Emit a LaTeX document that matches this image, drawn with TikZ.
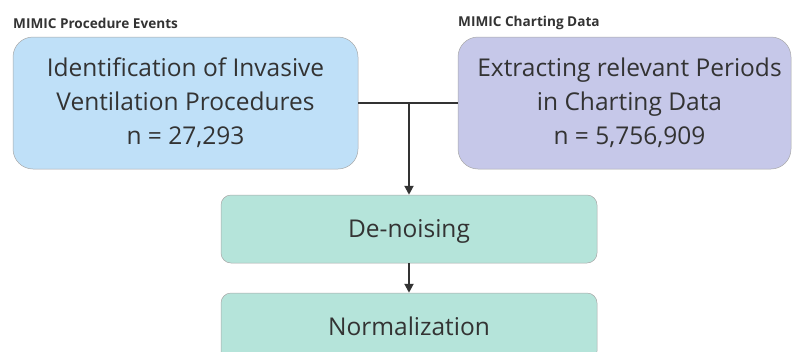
\documentclass[tikz,border=0pt]{standalone}
\usepackage{fontspec}
\setmainfont{Open Sans}
\usetikzlibrary{arrows.meta}
\definecolor{bluebox}{HTML}{BFE0F8}
\definecolor{purplebox}{HTML}{C6C8E9}
\definecolor{greenbox}{HTML}{B5E4DA}
\definecolor{edgegray}{HTML}{A8A8A8}
\definecolor{txt}{HTML}{333333}
\tikzset{
  x=1pt, y=-1pt,
  boxbase/.style={draw=edgegray, line width=0.5pt, text=txt, align=center,
    font=\fontsize{24.5}{34}\selectfont, inner sep=0pt},
  bigbox/.style={boxbase, rounded corners=20pt, minimum height=132pt},
  stepbox/.style={boxbase, fill=greenbox, rounded corners=10pt, minimum width=376pt, minimum height=68pt, text depth=0pt},
  lbl/.style={text=txt, font=\fontsize{13.6}{15}\selectfont\bfseries, anchor=west, inner sep=0pt},
  conn/.style={draw=txt, line width=2pt},
  arr/.style={conn, -{Triangle[length=9pt,width=9pt]}}
}
\begin{document}
\begin{tikzpicture}
\useasboundingbox (0,0) rectangle (792,351);
\node[lbl] (l1) at (13,23) {MIMIC Procedure Events};
\node[lbl] (l2) at (458,23) {MIMIC Charting Data};
\node[bigbox, fill=bluebox, minimum width=345pt] (ident) at (185.5,103) {Identification of Invasive\\Ventilation Procedures\\n = 27,293};
\node[bigbox, fill=purplebox, minimum width=333pt] (extr) at (624.5,103) {\hspace*{10pt}Extracting relevant Periods\\\hspace*{10pt}in Charting Data\\\hspace*{10pt}n = 5,756,909};
\node[stepbox] (denoise) at (409,229) {De-noising};
\node[stepbox] (norm) at (409,327) {\raisebox{1.5pt}{Normalization}};
\coordinate (junc) at (409,103);
\draw[conn] (ident.east |- junc) -- (extr.west |- junc);
\draw[arr] (junc) -- (denoise.north);
\draw[arr] (denoise.south) -- (norm.north);
\end{tikzpicture}
\end{document}
